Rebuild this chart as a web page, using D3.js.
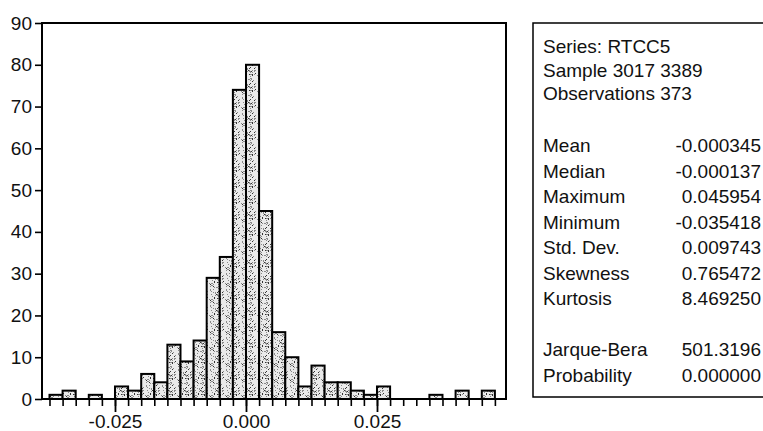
<!DOCTYPE html>
<html>
<head>
<meta charset="utf-8">
<script src="https://cdn.jsdelivr.net/npm/d3@7/dist/d3.min.js"></script>
<style>
  html, body { margin: 0; padding: 0; background: #fff; }
  svg text { font-family: "Liberation Sans", Arial, Helvetica, sans-serif; fill: #111; }
</style>
</head>
<body>
<svg id="chart" width="763" height="431"></svg>
<script>
// Histogram of RTCC5 returns: bins of width 0.0025 starting at -0.0375
const binStart = -0.0375;
const binWidth = 0.0025;
const binCounts = [1, 2, 0, 1, 0, 3, 2, 6, 4, 13, 9, 14, 29, 34, 74, 80, 45,
                   16, 10, 3, 8, 4, 4, 2, 1, 3, 0, 0, 0, 1, 0, 2, 0, 2];

const yTicks = [0, 10, 20, 30, 40, 50, 60, 70, 80, 90];
const xLabelTicks = [-0.025, 0.0, 0.025];
const xTickLabels = ["-0.025", "0.000", "0.025"];

const headerLines = ["Series: RTCC5", "Sample 3017 3389", "Observations 373"];
const statLabels = ["Mean", "Median", "Maximum", "Minimum", "Std. Dev.", "Skewness", "Kurtosis"];
const statValues = ["-0.000345", "-0.000137", "0.045954", "-0.035418", "0.009743", "0.765472", "8.469250"];
const testLabels = ["Jarque-Bera", "Probability"];
const testValues = ["501.3196", "0.000000"];

const svg = d3.select("#chart");
const plot = { left: 42, right: 506, top: 23, bottom: 399 };

const x = d3.scaleLinear().domain([-0.03893, 0.04962]).range([plot.left, plot.right]);
const y = d3.scaleLinear().domain([0, 90]).range([plot.bottom, plot.top]);

const bins = binCounts.map((c, i) => ({ x0: binStart + i * binWidth, x1: binStart + (i + 1) * binWidth, count: c }));
const binEdges = d3.range(binCounts.length + 1).map(i => binStart + i * binWidth);

// stippled (printed halftone) fill for the bars: a 16x16 tile of specks
// laid out by a fixed integer hash so the texture is identical every run
const defs = svg.append("defs");
const tile = 16;
const pat = defs.append("pattern").attr("id", "stipple")
  .attr("patternUnits", "userSpaceOnUse").attr("width", tile).attr("height", tile);
pat.append("rect").attr("width", tile).attr("height", tile).attr("fill", "#eaeaea");
for (let i = 0; i < tile; i++) {
  for (let j = 0; j < tile; j++) {
    const h = ((i * 73 + j * 151 + i * j * 29 + 17) ^ (j * 11 + i * 5)) % 29;
    if (h < 7) {
      pat.append("rect").attr("x", i).attr("y", j).attr("width", 1).attr("height", 1)
        .attr("fill", h < 3 ? "#333" : "#8a8a8a");
    }
  }
}

// bars
svg.append("g").selectAll("rect").data(bins.filter(b => b.count > 0)).join("rect")
  .attr("x", d => x(d.x0))
  .attr("y", d => y(d.count))
  .attr("width", d => x(d.x1) - x(d.x0))
  .attr("height", d => y(0) - y(d.count))
  .attr("fill", "url(#stipple)")
  .attr("stroke", "#000")
  .attr("stroke-width", 2);

// frame
svg.append("rect")
  .attr("x", plot.left).attr("y", plot.top)
  .attr("width", plot.right - plot.left).attr("height", plot.bottom - plot.top)
  .attr("fill", "none").attr("stroke", "#000").attr("stroke-width", 2);

// y axis
const yAxis = svg.append("g").attr("transform", `translate(${plot.left},0)`)
  .call(d3.axisLeft(y).tickValues(yTicks).tickSize(7).tickPadding(3));
yAxis.select(".domain").remove();
yAxis.selectAll("line").attr("stroke", "#000").attr("stroke-width", 1.6);
yAxis.selectAll("text").attr("font-size", 19).attr("fill", "#111")
  .style("font-family", "'Liberation Sans', Arial, sans-serif");

// x axis: minor ticks at every bin edge
const xMinor = svg.append("g").attr("transform", `translate(0,${plot.bottom})`)
  .call(d3.axisBottom(x).tickValues(binEdges).tickSize(7).tickFormat(""));
xMinor.select(".domain").remove();
xMinor.selectAll("line").attr("stroke", "#000").attr("stroke-width", 1.6);

// x axis: labelled major ticks
const xMajor = svg.append("g").attr("transform", `translate(0,${plot.bottom})`)
  .call(d3.axisBottom(x).tickValues(xLabelTicks).tickSize(13).tickPadding(3)
    .tickFormat((d, i) => xTickLabels[i]));
xMajor.select(".domain").remove();
xMajor.selectAll("line").attr("stroke", "#000").attr("stroke-width", 1.8);
xMajor.selectAll("text").attr("font-size", 19).attr("fill", "#111")
  .style("font-family", "'Liberation Sans', Arial, sans-serif");

// statistics panel
const box = { left: 533, top: 23, bottom: 397 };
svg.append("path")
  .attr("d", `M770,${box.top}H${box.left}V${box.bottom}H770`)
  .attr("fill", "none").attr("stroke", "#000").attr("stroke-width", 1.5);

const textX = 543, valueX = 761;
const headerBase = 53, headerStep = 23.5;
const statBase = 152, statStep = 25.5;
const rows = [];
headerLines.forEach((t, i) => rows.push({ label: t, value: "", y: headerBase + i * headerStep }));
statLabels.forEach((t, i) => rows.push({ label: t, value: statValues[i], y: statBase + i * statStep }));
testLabels.forEach((t, i) => rows.push({ label: t, value: testValues[i], y: statBase + (8 + i) * statStep }));

const g = svg.append("g").attr("font-size", 19);
g.selectAll("text.lab").data(rows).join("text").attr("class", "lab")
  .attr("x", textX).attr("y", d => d.y)
  .text(d => d.label);
g.selectAll("text.val").data(rows.filter(r => r.value)).join("text").attr("class", "val")
  .attr("x", valueX).attr("y", d => d.y)
  .attr("text-anchor", "end")
  .text(d => d.value);
</script>
</body>
</html>
